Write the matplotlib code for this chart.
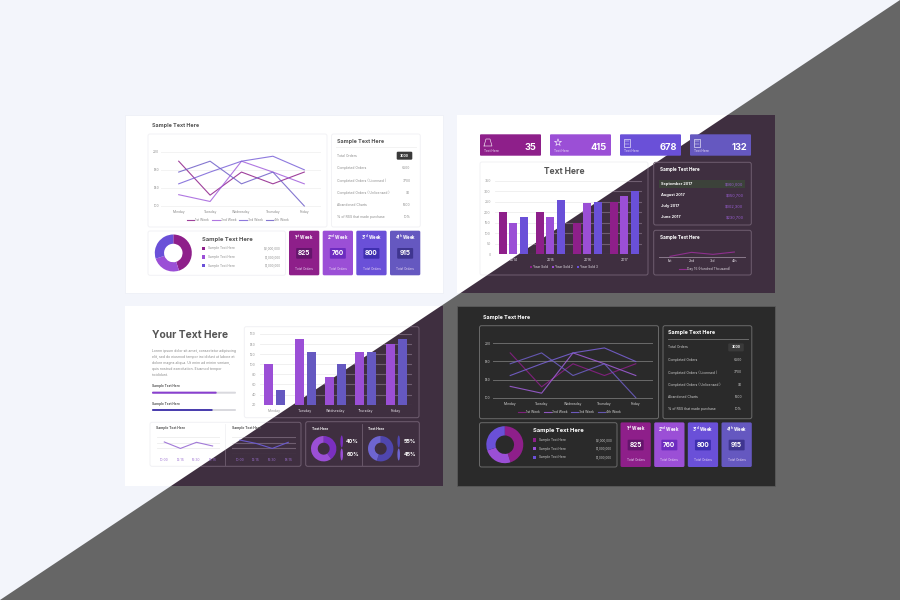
import matplotlib
matplotlib.use("Agg")
import matplotlib.pyplot as plt
from matplotlib.patches import FancyBboxPatch, Polygon, Rectangle, Ellipse

plt.rcParams['font.family'] = ['Inter', 'DejaVu Sans']
plt.rcParams['mathtext.fontset'] = 'custom'
plt.rcParams['mathtext.rm'] = 'Inter'
plt.rcParams['mathtext.bf'] = 'Inter:bold'
plt.rcParams['mathtext.default'] = 'regular'

# ---------- data ----------
days = ['Monday', 'Tuesday', 'Wednesday', 'Thursday', 'Friday']
week_names = ['1st Week', '2nd Week', '3rd Week', '4th Week']
week1 = [199, 124, 175, 149, 175]
week2 = [125, 110, 199, 175, 149]
week3 = [149, 175, 199, 210, 180]
week4 = [175, 199, 149, 175, 100]
line_ticks = [100, 140, 180, 220]

order_labels = ['Total Orders', 'Completed Orders', 'Completed Orders ( Licensed )',
                'Completed Orders ( Unlicensed )', 'Abandoned Charts', '% of RSS that made purchase']
order_values = ['3000', '6500', '3700', '90', '1500', '10%']

donut_values = [45, 25, 30]
donut_labels = ['Sample Text Here'] * 3
donut_money = ['$2,000,000', '$1,000,000', '$1,000,000']

card_titles = ['1$^{st}$ Week', '2$^{nd}$ Week', '3$^{rd}$ Week', '4$^{th}$ Week']
card_numbers = ['825', '760', '800', '915']

kpi_numbers = ['35', '415', '678', '132']

years = ['2014', '2015', '2016', '2017']
year_sold1 = [200, 200, 150, 250]
year_sold2 = [150, 175, 245, 275]
year_sold3 = [175, 260, 250, 300]
year_names = ['Year Sold', 'Year Sold 2', 'Year Sold 3']
year_ticks = [0, 50, 100, 150, 200, 250, 300, 350]

month_labels = ['September 2017', 'August 2017', 'July 2017', 'June 2017']
month_values = ['$360,000', '$350,700', '$302,300', '$230,700']

quarter_labels = ['1st', '2nd', '3rd', '4th']
quarter_values = [1, 13, 7, 14]

bar_a = [100, 150, 75, 125, 140]
bar_b = [50, 125, 100, 125, 150]
bar_ticks = [20, 40, 60, 80, 100, 120, 140, 160]

time_left = ['10:00', '12:15', '15:30', '18:15']
time_vals_left = [21.6, 10, 21, 14.4]
time_vals_right = [25, 19, 10, 21]

share_a = [40, 60]
share_b = [55, 45]

# ---------- palette ----------
MAG, PUR, BLU, IND = '#8e1f8a', '#9b4fd6', '#6a50d8', '#6558c0'
PILLS = ['#64156c', '#6d2cc0', '#3f2fb0', '#3f3590']
DARK = '#3f2f40'
EDGE_D = '#6f5e70'
EDGE_L = '#f1f1f4'

fig = plt.figure(figsize=(9, 6), dpi=100, facecolor='#f3f5fb')
bg = fig.add_axes([0, 0, 1, 1], zorder=0)
bg.set_xlim(0, 900)
bg.set_ylim(600, 0)
bg.axis('off')

upper = Polygon([(0, 0), (900, 0), (0, 600)], transform=bg.transData)
lower = Polygon([(900, 0), (900, 600), (0, 600)], transform=bg.transData)


def is_light(x, y):
    return y < 600 - x * 2 / 3


def inset(x0, y0, x1, y1, z=2):
    ax = fig.add_axes([x0 / 900, 1 - y1 / 600, (x1 - x0) / 900, (y1 - y0) / 600], zorder=z)
    ax.patch.set_alpha(0)
    for s in ax.spines.values():
        s.set_visible(False)
    return ax


def T(x, y, s, size, color, weight='normal', ha='left'):
    bg.text(x, y, s, fontsize=size, color=color, fontweight=weight, ha=ha, va='center', zorder=5)


def box(x0, y0, x1, y1, fc='none', ec='none', lw=0.7, r=2, z=2, clip=None):
    p = FancyBboxPatch((x0, y0), x1 - x0, y1 - y0, boxstyle=f'round,pad=0,rounding_size={r}',
                       fc=fc, ec=ec, lw=lw, zorder=z)
    bg.add_patch(p)
    if clip is not None:
        p.set_clip_path(clip)
    return p


def split_box(x0, y0, x1, y1, r=2):
    box(x0, y0, x1, y1, ec=EDGE_L, clip=upper, r=r)
    box(x0, y0, x1, y1, ec=EDGE_D, clip=lower, r=r)


def split_grid(ax, ticks):
    for y in ticks:
        a = ax.axhline(y, color='#eeeeee', lw=0.6, zorder=1)
        a.set_clip_path(upper)
        b = ax.axhline(y, color=EDGE_D, lw=0.8, zorder=1)
        b.set_clip_path(lower)


def cards(dx, dy):
    xs = [289, 322.7, 356.3, 390]
    for x, c, pill, title, num in zip(xs, [MAG, PUR, BLU, IND], PILLS, card_titles, card_numbers):
        x += dx
        box(x, 230.7 + dy, x + 30.3, 275.3 + dy, fc=c, r=1.5)
        mid = x + 15.15
        T(mid, 237.3 + dy, title, 3.1, 'white', 'bold', 'center')
        box(mid - 8, 248 + dy, mid + 8, 258.7 + dy, fc=pill, r=1, z=3)
        T(mid, 253.3 + dy, num, 4.7, 'white', 'bold', 'center')
        T(mid, 268.5 + dy, 'Total Orders', 2.2, '#e8d8f4', 'normal', 'center')


def dashboard(dx, dy, dark):
    txt = 'white' if dark else '#555555'
    sub = '#d0d0d0' if dark else '#8a8a8a'
    grid = '#6a6a6a' if dark else '#f3f3f3'
    edge = '#6a6a6a' if dark else '#f2f2f5'
    T(151.7 + dx, 126 + dy, 'Sample Text Here', 3.9, txt, 'bold')
    box(148 + dx, 134 + dy, 327 + dx, 227 + dy, ec=edge)
    box(331.5 + dx, 134 + dy, 420.3 + dx, 227 + dy, ec=edge)
    box(148 + dx, 231 + dy, 285.5 + dx, 275.3 + dy, ec=edge)

    ax = inset(161 + dx, 151.7 + dy, 320 + dx, 206 + dy)
    ax.set_xlim(-0.564, 4.5)
    ax.set_ylim(100, 220)
    ax.set_yticks(line_ticks)
    ax.set_xticks(range(len(days)))
    ax.set_xticklabels(days)
    ax.tick_params(length=0, labelsize=2.4, colors=sub, pad=3)
    ax.tick_params(axis='y', pad=1.2)
    for y in line_ticks:
        ax.axhline(y, color=grid, lw=0.7, zorder=1, clip_on=False)
    for vals, c, name in zip([week1, week2, week3, week4], [MAG, '#a25fdc', '#7a62d8', '#6f5fc8'], week_names):
        ax.plot(range(len(days)), vals, color=c, lw=0.8, alpha=0.85, label=name, zorder=3,
                clip_on=False)
    ax.legend(loc='center', ncol=4, bbox_to_anchor=(238 + dx, 220 + dy), bbox_transform=bg.transData,
              frameon=False, fontsize=2.4, labelcolor=sub, handlelength=2.2, columnspacing=1.0,
              handletextpad=0.3)

    T(337 + dx, 141 + dy, 'Sample Text Here', 3.9, txt, 'bold')
    bg.plot([336 + dx, 416 + dx], [147.3 + dy] * 2, color=grid, lw=0.7, zorder=2)
    for i, (lab, val, y) in enumerate(zip(order_labels, order_values, [155.7, 168, 180.7, 193, 205, 217.3])):
        T(337 + dx, y + dy, lab, 2.45, sub)
        if i == 0:
            box(396.7 + dx, y - 4 + dy, 412.3 + dx, y + 4 + dy, fc='#3a3a3a', r=1.2, z=3)
            T(404.5 + dx, y + dy, val, 2.5, 'white', 'bold', 'center')
        else:
            T(410.5 + dx, y + dy, val, 2.4, sub, 'normal', 'right')

    ax = inset(154.8 + dx, 234.5 + dy, 191.8 + dx, 271.5 + dy)
    ax.pie(donut_values, radius=1, startangle=90, counterclock=False, colors=[MAG, PUR, BLU],
           wedgeprops=dict(width=0.5, lw=0))
    ax.set_xlim(-1, 1)
    ax.set_ylim(-1, 1)

    T(201.7 + dx, 239 + dy, 'Sample Text Here', 4.2, txt, 'bold')
    for lab, val, c, y in zip(donut_labels, donut_money, [MAG, PUR, BLU], [248.3, 257, 265.7]):
        bg.add_patch(Rectangle((201.5 + dx, y - 1.7 + dy), 3.4, 3.4, fc=c, ec='none', zorder=3))
        T(207.7 + dx, y + dy, lab, 2.3, sub)
        T(280.7 + dx, y + 0.7 + dy, val, 2.2, sub, 'normal', 'right')
    cards(dx, dy)


# ---------- backgrounds ----------
bg.add_patch(Polygon([(900, 0), (900, 600), (0, 600)], fc='#666666', ec='none', zorder=0.2))
bg.add_patch(Rectangle((125, 115), 318, 178, fc='white', ec='#eef0f6', lw=0.6, zorder=1))
bg.add_patch(Rectangle((457, 306), 318, 180, fc='#2a2a2a', ec='#5a5a5a', lw=0.6, zorder=1))
for (x, y, w, h) in [(457, 115, 318, 178), (125, 306, 318, 180)]:
    bg.add_patch(Rectangle((x, y), w, h, fc='white', ec='none', zorder=1))
    d = Rectangle((x, y), w, h, fc=DARK, ec='none', zorder=1.1)
    bg.add_patch(d)
    d.set_clip_path(lower)

# ---------- panels 1 and 4 ----------
dashboard(0, 0, False)
dashboard(331.5, 191.7, True)

# ---------- panel 2 ----------
for x, c, num, rx in zip([480, 550, 620, 690], [MAG, PUR, BLU, IND], kpi_numbers, [536.7, 606.7, 676.7, 746.7]):
    box(x, 134.3, x + 61, 155.7, fc=c, r=1)
    T(rx, 148, num, 6.7, 'white', 'bold', 'right')
    T(x + 4.5, 150.5, 'Text Here', 2.3, '#f0e4f8')
bg.plot([484, 486, 490, 492, 484], [146, 139, 139, 146, 146], color='white', lw=0.4, zorder=4)
bg.scatter([558], [142.5], marker='*', s=28, fc='none', ec='white', lw=0.4, zorder=4)
for x in [624, 694]:
    bg.add_patch(Rectangle((x, 138.5), 5.5, 8, fc='none', ec='white', lw=0.4, zorder=4))
    bg.plot([x + 1, x + 4.5], [141, 141], color='white', lw=0.3, zorder=4)
    bg.plot([x + 1, x + 4.5], [143.5, 143.5], color='white', lw=0.3, zorder=4)

split_box(480, 162, 648, 275)
T(564.3, 171.7, 'Text Here', 6.1, '#555555', 'bold', 'center')

ax = inset(495, 180.7, 641.7, 254.3)
ax.set_xlim(-0.495, 3.47)
ax.set_ylim(0, 350)
split_grid(ax, year_ticks)
step = 0.28
xpos = range(len(years))
for off, vals, c, name in zip([-step, 0, step], [year_sold1, year_sold2, year_sold3], [MAG, PUR, BLU], year_names):
    ax.bar([i + off for i in xpos], vals, width=0.225, color=c, label=name, zorder=3)
ax.set_yticks(year_ticks)
ax.set_xticks(list(xpos))
ax.set_xticklabels(years)
ax.tick_params(length=0, labelsize=2.5, pad=3)
ax.tick_params(axis='y', colors='#999999')
for lab, t in zip(ax.get_xticklabels(), [513.3, 550.2, 587.2, 624.3]):
    lab.set_color('#999999' if is_light(t, 260) else '#e6e0e8')
leg = ax.legend(loc='center', ncol=3, bbox_to_anchor=(564, 267.3), bbox_transform=bg.transData,
                frameon=False, fontsize=2.4, labelcolor='#e6e0e8', handlelength=0.6, columnspacing=1.2,
                handletextpad=0.4)

box(653.7, 162.3, 751.3, 225, ec=EDGE_D)
T(659.7, 169.3, 'Sample Text Here', 3.3, 'white', 'bold')
bg.add_patch(Rectangle((658.5, 180), 86.5, 8.3, fc='#3c423a', ec='none', zorder=2))
for lab, val, y in zip(month_labels, month_values, [184, 195, 205.7, 216.7]):
    T(661, y, lab, 2.8, 'white', 'bold')
    T(743.5, y, val, 2.8, '#9b5fd6', 'normal', 'right')

box(653.7, 230.3, 751.3, 275, ec=EDGE_D)
T(659.7, 237, 'Sample Text Here', 3.3, 'white', 'bold')
ax = inset(659, 240, 745, 256.7)
ax.set_xlim((659 - 670) / 21.45, (745 - 670) / 21.45)
ax.set_ylim(0, 50)
ax.plot(range(4), quarter_values, color='#8e2f8e', lw=0.8, label='Day 15 (Hundred Thousand)')
ax.axhline(0, color='#8a7a8c', lw=0.7, clip_on=False)
ax.set_yticks([])
ax.set_xticks(range(4))
ax.set_xticklabels(quarter_labels)
ax.tick_params(length=0, labelsize=2.5, colors='#e6e0e8', pad=2)
ax.legend(loc='center', bbox_to_anchor=(705, 269), bbox_transform=bg.transData, frameon=False,
          fontsize=2.4, labelcolor='#d8d0da', handlelength=2, handletextpad=0.4)

# ---------- panel 3 ----------
T(151.7, 335, 'Your Text Here', 7.4, '#555555', 'bold')
para = ['Lorem ipsum dolor sit amet, consectetur adipiscing',
        'elit, sed do eiusmod tempor incididunt ut labore et',
        'dolore magna aliqua. Ut enim ad minim veniam,',
        'quis nostrud exercitation. Eiusmod tempor',
        'incididunt.']
for line, y in zip(para, [350.7, 356.7, 362.7, 368.7, 374.7]):
    T(151.7, y, line, 2.5, '#888888')
for lab_y, bar_y, end, c in [(386, 392.7, 216.7, '#8a3fd0'), (403.7, 410, 212.7, '#4b3fae')]:
    T(151.7, lab_y, 'Sample Text Here', 2.3, '#555555', 'bold')
    box(152, bar_y - 1, 236, bar_y + 1, fc='#d9d9de', r=1)
    box(152, bar_y - 1, end, bar_y + 1, fc=c, r=1, z=3)

split_box(244.3, 326.7, 419, 417.7)
ax = inset(260, 333.9, 411.7, 404.7)
ax.set_xlim((260 - 274.8) / 30.35, (411.7 - 274.8) / 30.35)
ax.set_ylim(20, 160)
split_grid(ax, bar_ticks)
xpos = range(len(days))
ax.bar([i - 0.197 for i in xpos], bar_a, width=0.296, color=PUR, zorder=3)
ax.bar([i + 0.197 for i in xpos], bar_b, width=0.296, color=IND, zorder=3)
ax.set_yticks(bar_ticks)
ax.set_xticks(list(xpos))
ax.set_xticklabels(days)
ax.tick_params(length=0, labelsize=2.5, pad=3)
ax.tick_params(axis='y', colors='#999999')
for lab, t in zip(ax.get_xticklabels(), [274.8, 305.2, 335.5, 365.8, 396.2]):
    lab.set_color('#999999' if is_light(t, 410) else '#e6e0e8')

split_box(150, 422.3, 301, 466.3)
bg.plot([225.3, 225.3], [424, 465], color=EDGE_L, lw=0.6, zorder=2, clip_path=upper)
bg.plot([225.3, 225.3], [424, 465], color=EDGE_D, lw=0.6, zorder=2, clip_path=lower)
T(155.7, 428.3, 'Sample Text Here', 2.4, '#555555', 'bold')
T(231.7, 428.3, 'Sample Text Here', 2.4, '#555555', 'bold')
for x0, x1, first, vals, c in [(156.7, 220, 164.3, time_vals_left, '#a27ad8'),
                               (231.7, 295.7, 240, time_vals_right, '#6a5acd')]:
    ax = inset(x0, 437.3, x1, 454)
    ax.set_xlim((x0 - first) / 16.1, (x1 - first) / 16.1)
    ax.set_ylim(0, 30)
    split_grid(ax, [0, 10, 20, 30])
    ax.plot(range(4), vals, color=c, lw=0.8, zorder=3)
    ax.set_yticks([])
    ax.set_xticks(range(4))
    ax.set_xticklabels(time_left)
    ax.tick_params(length=0, labelsize=2.4, colors='#9b6fd0', pad=2.6)

split_box(305.7, 421.7, 419.3, 466.3)
bg.plot([362.3, 362.3], [424, 465], color=EDGE_D, lw=0.6, zorder=2)
T(311.7, 428.7, 'Text Here', 2.45, 'white', 'bold')
T(368.3, 428.7, 'Text Here', 2.45, 'white', 'bold')
for cx, vals, cols, tx, px in [(323.7, share_a, ['#7a2fc0', PUR], 359, 341.7),
                               (380.7, share_b, ['#4f46ae', '#6e65d0'], 416, 398.7)]:
    ax = inset(cx - 12.7, 436, cx + 12.7, 461.4)
    ax.pie(vals, radius=1, startangle=90, counterclock=False, colors=cols,
           wedgeprops=dict(width=0.53, lw=0))
    ax.set_xlim(-1, 1)
    ax.set_ylim(-1, 1)
    bg.add_patch(Ellipse((px, 441.5), 2.6, 12, fc=cols[0], ec='none', zorder=3))
    bg.add_patch(Ellipse((px, 454.5), 2.6, 12, fc=cols[1], ec='none', zorder=3))
    T(tx, 441.7, f'{vals[0]}%', 3.9, 'white', 'bold', 'right')
    T(tx, 455, f'{vals[1]}%', 3.9, 'white', 'bold', 'right')

fig.savefig('out.png', dpi=100, facecolor=fig.get_facecolor())
